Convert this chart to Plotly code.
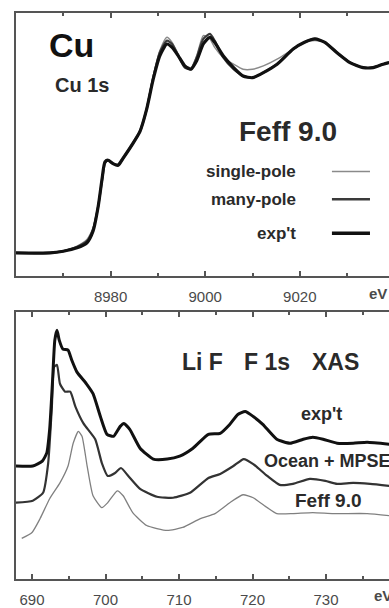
import plotly.graph_objects as go

# ---------------- data: Cu K-edge (top panel) ----------------
cu_energy = [8960, 8967.2, 8970, 8972.9, 8975, 8976.3, 8977.4, 8978.2, 8978.8, 8979.5,
             8980.5, 8981.6, 8982.6, 8984.5, 8986.2, 8987.6, 8989, 8990.4, 8991.9, 8993,
             8994.3, 8995.7, 8997, 8998.2, 8999.6, 9001, 9002, 9003.8, 9006, 9008,
             9010, 9012.3, 9015.2, 9018.6, 9021, 9023.2, 9025.3, 9027.8, 9030.6, 9033.4,
             9035.5, 9037.6, 9038.9]
cu_single_pole = [0, 0, 0.01, 0.04, 0.08, 0.15, 0.29, 0.44, 0.53, 0.55,
                  0.53, 0.53, 0.57, 0.65, 0.73, 0.86, 1.05, 1.20, 1.28, 1.25,
                  1.18, 1.11, 1.10, 1.17, 1.29, 1.27, 1.22, 1.16, 1.12, 1.09,
                  1.09, 1.11, 1.15, 1.21, 1.25, 1.26, 1.25, 1.19, 1.13, 1.10,
                  1.10, 1.12, 1.13]
cu_many_pole = [0, 0, 0.01, 0.035, 0.07, 0.14, 0.28, 0.43, 0.53, 0.55,
                0.53, 0.52, 0.56, 0.64, 0.72, 0.85, 1.04, 1.19, 1.26, 1.24,
                1.17, 1.10, 1.09, 1.16, 1.27, 1.30, 1.26, 1.16, 1.09, 1.05,
                1.04, 1.07, 1.12, 1.21, 1.25, 1.27, 1.25, 1.19, 1.13, 1.10,
                1.10, 1.12, 1.13]
cu_expt = [0, 0, 0.01, 0.03, 0.06, 0.13, 0.28, 0.44, 0.54, 0.55,
           0.53, 0.52, 0.56, 0.64, 0.72, 0.85, 1.03, 1.17, 1.24, 1.22,
           1.17, 1.11, 1.09, 1.14, 1.24, 1.28, 1.25, 1.17, 1.10, 1.05,
           1.04, 1.07, 1.12, 1.21, 1.25, 1.27, 1.25, 1.19, 1.13, 1.10,
           1.10, 1.12, 1.13]
cu_tick_vals = [8980, 9000, 9020]
cu_tick_text = ["8980", "9000", "9020"]
cu_minor_vals = [8970, 8990, 9010, 9030]

# ---------------- data: LiF F 1s XAS (bottom panel) ----------------
lif_energy_expt = [687.8, 690.1, 691.4, 692.0, 692.4, 692.8, 693.1, 693.4, 693.7, 694.2,
                   694.9, 695.4, 696.1, 697.4, 698.3, 699.3, 700.2, 701.1, 702.0, 702.5,
                   703.3, 704.7, 706.5, 708.4, 710.1, 711.9, 714.0, 715.6, 716.9, 718.0,
                   719.0, 720.1, 721.4, 723.3, 725.1, 726.9, 728.2, 729.6, 731.5, 733.7,
                   735.6, 738.6]
lif_expt = [1.14, 1.14, 1.19, 1.27, 1.51, 2.01, 2.41, 2.51, 2.41, 2.32,
            2.31, 2.21, 2.09, 1.97, 1.87, 1.64, 1.46, 1.44, 1.54, 1.57,
            1.51, 1.32, 1.21, 1.21, 1.24, 1.32, 1.46, 1.47, 1.56, 1.66,
            1.69, 1.64, 1.56, 1.41, 1.37, 1.41, 1.43, 1.41, 1.37, 1.37,
            1.38, 1.36]
lif_energy_ocean = [687.8, 690.1, 691.5, 692.2, 692.7, 693.0, 693.4, 693.8, 694.5, 695.2,
                    695.9, 697.0, 698.6, 699.5, 700.3, 701.3, 702.1, 703.1, 704.7, 707.0,
                    709.2, 711.5, 714.0, 715.6, 717.4, 718.8, 720.1, 722.0, 723.7, 725.5,
                    727.8, 729.9, 731.5, 733.7, 736.0, 738.6]
lif_ocean_mpse = [0.77, 0.79, 0.87, 1.17, 1.74, 2.14, 2.16, 1.97, 1.89, 1.89,
                  1.74, 1.57, 1.41, 1.17, 1.04, 1.07, 1.12, 1.04, 0.91, 0.83,
                  0.82, 0.87, 1.02, 1.06, 1.14, 1.21, 1.16, 1.04, 0.95, 0.96,
                  1.01, 0.99, 0.96, 0.97, 0.96, 0.94]
lif_energy_feff = [688.6, 690.0, 691.1, 692.4, 693.8, 694.9, 695.6, 696.3, 696.8, 697.5,
                   698.3, 699.5, 700.3, 701.6, 702.4, 703.7, 705.6, 708.4, 710.5, 712.9,
                   714.9, 716.9, 718.7, 720.1, 722.0, 723.3, 725.5, 728.2, 731.0, 735.6,
                   738.6]
lif_feff90 = [0.41, 0.47, 0.61, 0.81, 0.97, 1.14, 1.37, 1.49, 1.44, 1.14,
              0.84, 0.72, 0.77, 0.89, 0.84, 0.67, 0.54, 0.49, 0.52, 0.61,
              0.66, 0.77, 0.85, 0.82, 0.72, 0.66, 0.66, 0.67, 0.66, 0.66,
              0.64]
lif_tick_vals = [690, 700, 710, 720, 730]
lif_tick_text = ["690", "700", "710", "720", "730"]
lif_minor_vals = [695, 705, 715, 725, 735]

# ---------------- figure ----------------
FONT = "Liberation Sans, Arial, sans-serif"
AX = "#555555"
TXT = "#2a2a2a"

fig = go.Figure()

fig.add_trace(go.Scatter(x=cu_energy, y=cu_single_pole, mode="lines",
                         line=dict(color="#8a8a8a", width=1.4, shape="spline", smoothing=0.6),
                         xaxis="x", yaxis="y", showlegend=False))
fig.add_trace(go.Scatter(x=cu_energy, y=cu_many_pole, mode="lines",
                         line=dict(color="#3a3a3a", width=2.2, shape="spline", smoothing=0.6),
                         xaxis="x", yaxis="y", showlegend=False))
fig.add_trace(go.Scatter(x=cu_energy, y=cu_expt, mode="lines",
                         line=dict(color="#111111", width=3.2, shape="spline", smoothing=0.6),
                         xaxis="x", yaxis="y", showlegend=False))

fig.add_trace(go.Scatter(x=lif_energy_feff, y=lif_feff90, mode="lines",
                         line=dict(color="#808080", width=1.3, shape="spline", smoothing=0.5),
                         xaxis="x2", yaxis="y2", showlegend=False))
fig.add_trace(go.Scatter(x=lif_energy_ocean, y=lif_ocean_mpse, mode="lines",
                         line=dict(color="#333333", width=2.2, shape="spline", smoothing=0.5),
                         xaxis="x2", yaxis="y2", showlegend=False))
fig.add_trace(go.Scatter(x=lif_energy_expt, y=lif_expt, mode="lines",
                         line=dict(color="#111111", width=3.0, shape="spline", smoothing=0.5),
                         xaxis="x2", yaxis="y2", showlegend=False))


def xaxis_cfg(rng, vals, text, minor_vals, anchor):
    return dict(range=rng, domain=[0, 1], anchor=anchor,
                tickmode="array", tickvals=vals, ticktext=text,
                ticks="inside", ticklen=5, tickwidth=1.5, tickcolor=AX,
                minor=dict(tickmode="array", tickvals=minor_vals, ticks="inside",
                           ticklen=3, tickwidth=1.5, tickcolor=AX),
                showline=True, linecolor=AX, linewidth=2, mirror="allticks",
                showgrid=False, zeroline=False, ticklabelstandoff=6,
                tickfont=dict(family=FONT, size=15, color="#4a4a4a"))


def yaxis_cfg(rng, dom, anchor):
    return dict(range=rng, domain=dom, anchor=anchor,
                showline=True, linecolor=AX, linewidth=2, mirror=False,
                ticks="", showticklabels=False, showgrid=False, zeroline=False)


fig.update_layout(
    width=389, height=608,
    margin=dict(l=16, r=0, t=13, b=24),
    paper_bgcolor="white", plot_bgcolor="white",
    xaxis=xaxis_cfg([8960, 9038.86], cu_tick_vals, cu_tick_text, cu_minor_vals, "y"),
    yaxis=yaxis_cfg([-0.135, 1.424], [0.536, 1], "x"),
    xaxis2=xaxis_cfg([687.82, 738.57], lif_tick_vals, lif_tick_text, lif_minor_vals, "y2"),
    yaxis2=yaxis_cfg([0, 2.69], [0, 0.471], "x2"),
)


def note(text, x, y, size, xanchor="center", color=TXT, bold=True):
    fig.add_annotation(text=("<b>%s</b>" % text) if bold else text,
                       x=x, y=y, xref="paper", yref="paper",
                       xanchor=xanchor, yanchor="middle", showarrow=False,
                       font=dict(family=FONT, size=size, color=color))


# top panel labels
note("Cu", 0.149, 0.943, 34, color="#111111")
note("Cu 1s", 0.178, 0.873, 20)
note("Feff 9.0", 0.729, 0.790, 28)
note("single-pole", 0.756, 0.720, 17, xanchor="right")
note("many-pole", 0.756, 0.671, 17, xanchor="right")
note("exp't", 0.756, 0.611, 17, xanchor="right")
legend_styles = [(0.720, "#8a8a8a", 1.5), (0.671, "#3a3a3a", 2.5), (0.611, "#111111", 3.5)]
for yy, col, w in legend_styles:
    fig.add_shape(type="line", xref="paper", yref="paper", x0=0.847, x1=0.949,
                  y0=yy, y1=yy, line=dict(color=col, width=w))
note("eV", 0.941, 0.504, 15, xanchor="left", color="#4a4a4a")

# bottom panel labels
note("Li F", 0.440, 0.383, 23, xanchor="left")
note("F 1s", 0.606, 0.383, 23, xanchor="left")
note("XAS", 0.788, 0.383, 23, xanchor="left")
note("exp't", 0.819, 0.291, 18)
note("Ocean + MPSE", 0.660, 0.208, 18, xanchor="left")
note("Feff 9.0", 0.838, 0.138, 19)
note("eV", 0.954, -0.030, 15, xanchor="left", color="#4a4a4a")

fig.write_html("out.html", config={"displayModeBar": False},
               post_script="document.body.style.margin='0';document.body.style.overflow='hidden';")
